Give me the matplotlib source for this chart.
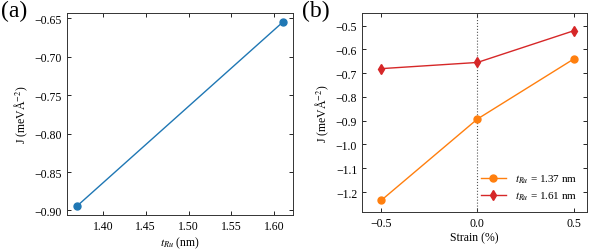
import matplotlib
matplotlib.use("Agg")
import matplotlib.pyplot as plt

# panel (a): J vs Ru thickness
t_ru = [1.37, 1.61]
j_thick = [-0.894, -0.655]

# panel (b): J vs strain for two thicknesses
strain = [-0.5, 0.0, 0.5]
j_137 = [-1.235, -0.893, -0.641]
j_161 = [-0.681, -0.655, -0.522]
labels_b = [r"$t_{Ru}$ = 1.37 nm", r"$t_{Ru}$ = 1.61 nm"]

plt.rcParams['font.family'] = ['Liberation Serif', 'DejaVu Serif']
plt.rcParams['mathtext.fontset'] = 'stix'
plt.rcParams['font.size'] = 8.5
plt.rcParams['axes.unicode_minus'] = True

fig = plt.figure(figsize=(6, 2.53), dpi=100)
ax1 = fig.add_axes([67/600, 1 - 216/253, (293-67)/600, (216-14)/253])
ax2 = fig.add_axes([362/600, 1 - 213/253, (587-362)/600, (213-14)/253])

minus = lambda fmt: matplotlib.ticker.FuncFormatter(lambda v, p: (fmt % v).replace('-', '\u2212'))

for ax in (ax1, ax2):
    ax.tick_params(direction='in', top=True, right=True, labelsize=8.5, length=3, width=0.6)
    for s in ax.spines.values():
        s.set_linewidth(0.7)
        s.set_color('#333333')

ax1.plot(t_ru, j_thick, 'o-', color='#1f77b4', lw=1, ms=5)
ax1.set_xticks([1.40, 1.45, 1.50, 1.55, 1.60])
ax1.set_yticks([-0.90, -0.85, -0.80, -0.75, -0.70, -0.65])
ax1.xaxis.set_major_formatter(minus('%.2f'))
ax1.yaxis.set_major_formatter(minus('%.2f'))
ax1.set_xlabel(r"$t_{Ru}$ (nm)", labelpad=2)
ax1.set_ylabel(r"J (meVÅ$^{-2}$)", labelpad=3)

ax2.axvline(0, color='#555555', ls=':', lw=0.8)
ax2.plot(strain, j_137, 'o-', color='#ff7f0e', lw=1, ms=5, label=labels_b[0])
ax2.plot(strain, j_161, 'd-', color='#d62728', lw=1, ms=5.5, label=labels_b[1])
ax2.set_xlim(-0.6, 0.57)
ax2.set_ylim(-1.284, -0.447)
ax2.set_xticks([-0.5, 0.0, 0.5])
ax2.set_yticks([-1.2, -1.1, -1.0, -0.9, -0.8, -0.7, -0.6, -0.5])
ax2.xaxis.set_major_formatter(minus('%.1f'))
ax2.yaxis.set_major_formatter(minus('%.1f'))
ax2.set_xlabel("Strain (%)", labelpad=2)
ax2.set_ylabel(r"J (meVÅ$^{-2}$)", labelpad=3)
ax2.legend(loc='lower right', frameon=False, fontsize=8, handlelength=2.2, labelspacing=0.4)

fig.text(1/600, 1 - 1/253, "(a)", fontsize=17, va='top', ha='left')
fig.text(302/600, 1 - 1/253, "(b)", fontsize=17, va='top', ha='left')

fig.savefig("out.png", dpi=100)
